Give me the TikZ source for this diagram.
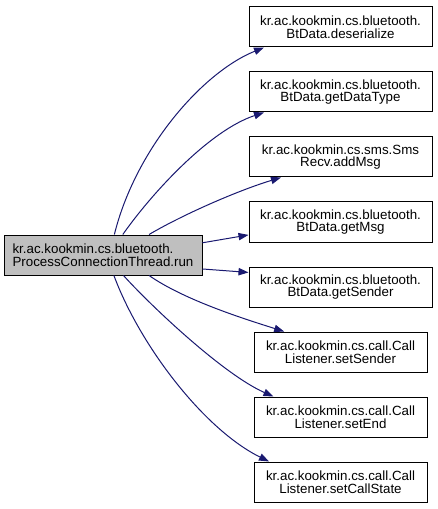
\documentclass[tikz,border=0pt]{standalone}
\usepackage{fontspec}
\setmainfont{Liberation Sans}
\usepackage{tikz}
\usetikzlibrary{shapes,arrows.meta,positioning}
\definecolor{edgeblue}{HTML}{191970}
\definecolor{rootgray}{HTML}{BFBFBF}
\tikzstyle{block} = [draw, rectangle, line width=0.75pt, minimum height=30pt, minimum width=137.25pt, inner sep=0pt, align=center, font=\fontsize{10}{9.6}\selectfont]
\tikzstyle{callblock} = [block, minimum width=129.75pt]
\tikzstyle{call} = [draw=edgeblue, line width=0.75pt, ->]

\begin{document}
\begin{tikzpicture}[x=0.75pt,y=-0.75pt,>={Triangle[length=7.5pt,width=5.5pt]}]
    \useasboundingbox (0,0) rectangle (437,509);
    \node [block, fill=rootgray, minimum width=148.5pt, align=left] (run) at (103,255) {kr.ac.kookmin.cs.bluetooth.\\ProcessConnectionThread.run};
    \node [block] (deserialize) at (340.5,27) {kr.ac.kookmin.cs.bluetooth.\\BtData.deserialize};
    \node [block] (getDataType) at (340.5,92) {kr.ac.kookmin.cs.bluetooth.\\BtData.getDataType};
    \node [block] (addMsg) at (340.5,157) {kr.ac.kookmin.cs.sms.Sms\\Recv.addMsg};
    \node [block] (getMsg) at (340.5,222) {kr.ac.kookmin.cs.bluetooth.\\BtData.getMsg};
    \node [block] (getSender) at (340.5,287) {kr.ac.kookmin.cs.bluetooth.\\BtData.getSender};
    \node [callblock] (setSender) at (340.5,352) {kr.ac.kookmin.cs.call.Call\\Listener.setSender};
    \node [callblock] (setEnd) at (340.5,417) {kr.ac.kookmin.cs.call.Call\\Listener.setEnd};
    \node [callblock] (setCallState) at (340.5,482) {kr.ac.kookmin.cs.call.Call\\Listener.setCallState};

    \draw [call] (run.61.2) .. controls +(21,-85) and +(-62,25) .. (deserialize.195.2);
    \draw [call] (run.46.5) .. controls +(28,-40) and +(-55,18) .. (getDataType.195.8);
    \draw [call] (run.24.9) .. controls +(34,-20) and +(-43,13) .. (addMsg.199.2);
    \draw [call] (run.7.5) -- (getMsg.188.7);
    \draw [call] (run.352) -- (getSender.171.3);
    \draw [call] (run.336.5) .. controls +(36,25) and +(-38,-12) .. (setSender.160.8);
    \draw [call] (run.315) .. controls +(27,30) and +(-50,-22) .. (setEnd.163);
    \draw [call] (run.298.8) .. controls +(26,70) and +(-65,-32) .. (setCallState.164.2);
\end{tikzpicture}
\end{document}
